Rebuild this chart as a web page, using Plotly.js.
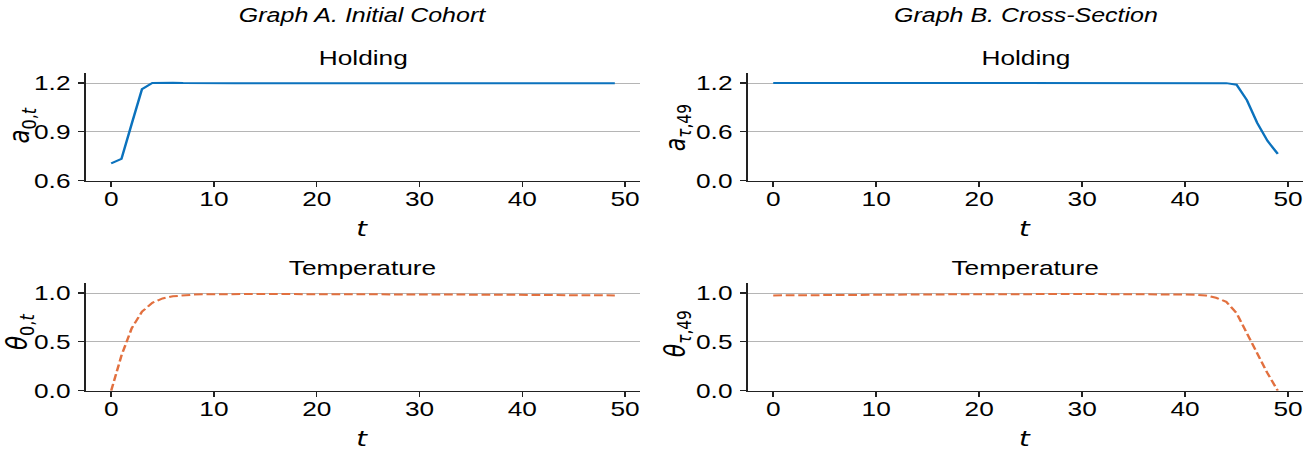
<!DOCTYPE html>
<html><head><meta charset="utf-8">
<script src="https://cdn.plot.ly/plotly-3.0.1.min.js"></script>
<style>
html,body{margin:0;padding:0;overflow:hidden;background:#fff}
#wrap{width:1304px;height:455px;overflow:hidden}
#plot{width:1043px;height:455px;transform:scaleX(1.25024);transform-origin:0 0}
</style></head><body><div id="wrap"><div id="plot"></div></div>
<script>
// ---- data ----
const periods = [0,1,2,3,4,5,6,7,8,9,10,11,12,13,14,15,16,17,18,19,20,21,22,23,24,25,26,27,28,29,30,31,32,33,34,35,36,37,38,39,40,41,42,43,44,45,46,47,48,49];
const xTicks = [0,10,20,30,40,50];

const holdingA = [0.707,0.734,0.950,1.163,1.200,1.203,1.202,1.200,1.199,1.199,
  1.199,1.199,1.199,1.199,1.199,1.199,1.199,1.199,1.199,1.199,
  1.199,1.199,1.199,1.199,1.199,1.199,1.199,1.199,1.199,1.199,
  1.199,1.199,1.199,1.199,1.199,1.199,1.199,1.199,1.199,1.199,
  1.199,1.199,1.200,1.199,1.199,1.199,1.199,1.199,1.199,1.199];
const tempA = [0.000,0.360,0.640,0.810,0.900,0.945,0.967,0.978,0.984,0.987,
  0.989,0.990,0.990,0.990,0.990,0.990,0.990,0.990,0.990,0.990,
  0.990,0.990,0.990,0.990,0.990,0.989,0.989,0.988,0.988,0.987,
  0.987,0.986,0.986,0.985,0.985,0.984,0.984,0.983,0.983,0.982,
  0.982,0.981,0.980,0.980,0.979,0.979,0.978,0.977,0.977,0.976];
const holdingB = [1.200,1.200,1.200,1.200,1.200,1.200,1.200,1.200,1.200,1.200,
  1.200,1.200,1.200,1.200,1.200,1.200,1.200,1.200,1.200,1.200,
  1.200,1.200,1.199,1.199,1.199,1.199,1.199,1.199,1.199,1.199,
  1.199,1.199,1.199,1.199,1.199,1.199,1.199,1.199,1.199,1.199,
  1.199,1.199,1.199,1.199,1.199,1.180,0.990,0.710,0.490,0.330];
const tempB = [0.976,0.977,0.977,0.978,0.979,0.980,0.980,0.981,0.982,0.982,
  0.983,0.984,0.984,0.985,0.985,0.986,0.986,0.987,0.987,0.988,
  0.988,0.989,0.989,0.989,0.990,0.990,0.990,0.990,0.990,0.990,
  0.990,0.990,0.990,0.990,0.990,0.990,0.990,0.989,0.988,0.987,
  0.985,0.982,0.975,0.952,0.910,0.795,0.583,0.372,0.179,0.000];

const yTicksA1 = [0.6,0.9,1.2];
const yTicksB1 = [0.0,0.6,1.2];
const yTicks2 = [0.0,0.5,1.0];

// ---- style ----
const W = 1304, H = 455;
const BLUE = '#0b72bd', ORANGE = '#e2703f';
const FONT = 'Liberation Sans, Arial, Helvetica, sans-serif';
const MATH = 'DejaVu Sans, Liberation Sans, sans-serif';
const px = x => x / W;
const py = y => 1 - y / H;

const colA = [px(86), px(640)], colB = [px(748), px(1303)];
const rowTop = [py(180.7), py(73.3)], rowBot = [py(390.7), py(283.3)];

function xax(dom, anchor) {
  return {domain: dom, anchor: anchor, range: [-2.45, 51.45], tickvals: xTicks,
    showline: true, linecolor: '#222', linewidth: 1.2, ticks: 'outside', ticklen: 5,
    tickwidth: 1.2, tickcolor: '#222', showgrid: false, zeroline: false,
    tickfont: {family: FONT, size: 21, color: '#000'}, ticklabelstandoff: -6};
}
function yax(dom, anchor, range, vals) {
  return {domain: dom, anchor: anchor, range: range, tickvals: vals,
    ticktext: vals.map(v => v.toFixed(1)),
    showline: true, linecolor: '#222', linewidth: 1.2, ticks: 'outside', ticklen: 5,
    tickwidth: 1.2, tickcolor: '#222', showgrid: true, gridcolor: '#b5b5b5', gridwidth: 1,
    zeroline: false, tickfont: {family: FONT, size: 21, color: '#000'}, ticklabelstandoff: 2};
}

const traces = [
  {x: periods, y: holdingA, xaxis: 'x', yaxis: 'y', mode: 'lines', line: {color: BLUE, width: 2}},
  {x: periods, y: holdingB, xaxis: 'x2', yaxis: 'y2', mode: 'lines', line: {color: BLUE, width: 2}},
  {x: periods, y: tempA, xaxis: 'x3', yaxis: 'y3', mode: 'lines', line: {color: ORANGE, width: 2, dash: '7px,3px'}},
  {x: periods, y: tempB, xaxis: 'x4', yaxis: 'y4', mode: 'lines', line: {color: ORANGE, width: 2, dash: '7px,3px'}}
];

const cA = (86 + 640) / 2, cB = (748 + 1303) / 2;
function ann(text, x, y, size, family, angle) {
  return {text: text, xref: 'paper', yref: 'paper', x: px(x), y: py(y), showarrow: false,
    xanchor: 'center', yanchor: 'middle', textangle: angle || 0,
    font: {family: family || FONT, size: size, color: '#000'}};
}
const annotations = [
  ann('<i>Graph A. Initial Cohort</i>', cA, 15, 20),
  ann('<i>Graph B. Cross-Section</i>', cB, 15, 20),
  ann('Holding', cA, 57.5, 21), ann('Holding', cB, 57.5, 21),
  ann('Temperature', cA, 267.5, 21), ann('Temperature', cB, 267.5, 21),
  ann('<i>t</i>', cA, 228, 22, MATH), ann('<i>t</i>', cB, 228, 22, MATH),
  ann('<i>t</i>', cA, 438, 22, MATH), ann('<i>t</i>', cB, 438, 22, MATH),
  ann('<i>a</i><sub>0,<i>t</i></sub>', 22, 126, 23, MATH, -90),
  ann('<i>a</i><sub><i>τ</i>,49</sub>', 678, 128, 22, MATH, -90),
  ann('<i>θ</i><sub>0,<i>t</i></sub>', 20, 332, 23, MATH, -90),
  ann('<i>θ</i><sub><i>τ</i>,49</sub>', 678, 334, 22, MATH, -90)
];

const layout = {
  width: 1043, height: H, margin: {l: 0, r: 0, t: 0, b: 0},
  paper_bgcolor: '#fff', plot_bgcolor: '#fff', showlegend: false,
  xaxis: xax(colA, 'y'), yaxis: yax(rowTop, 'x', [0.6, 1.26], yTicksA1),
  xaxis2: xax(colB, 'y2'), yaxis2: yax(rowTop, 'x2', [0, 1.32], yTicksB1),
  xaxis3: xax(colA, 'y3'), yaxis3: yax(rowBot, 'x3', [0, 1.1], yTicks2),
  xaxis4: xax(colB, 'y4'), yaxis4: yax(rowBot, 'x4', [0, 1.1], yTicks2),
  annotations: annotations
};
Plotly.newPlot('plot', traces, layout, {staticPlot: true, displayModeBar: false});
</script></body></html>
